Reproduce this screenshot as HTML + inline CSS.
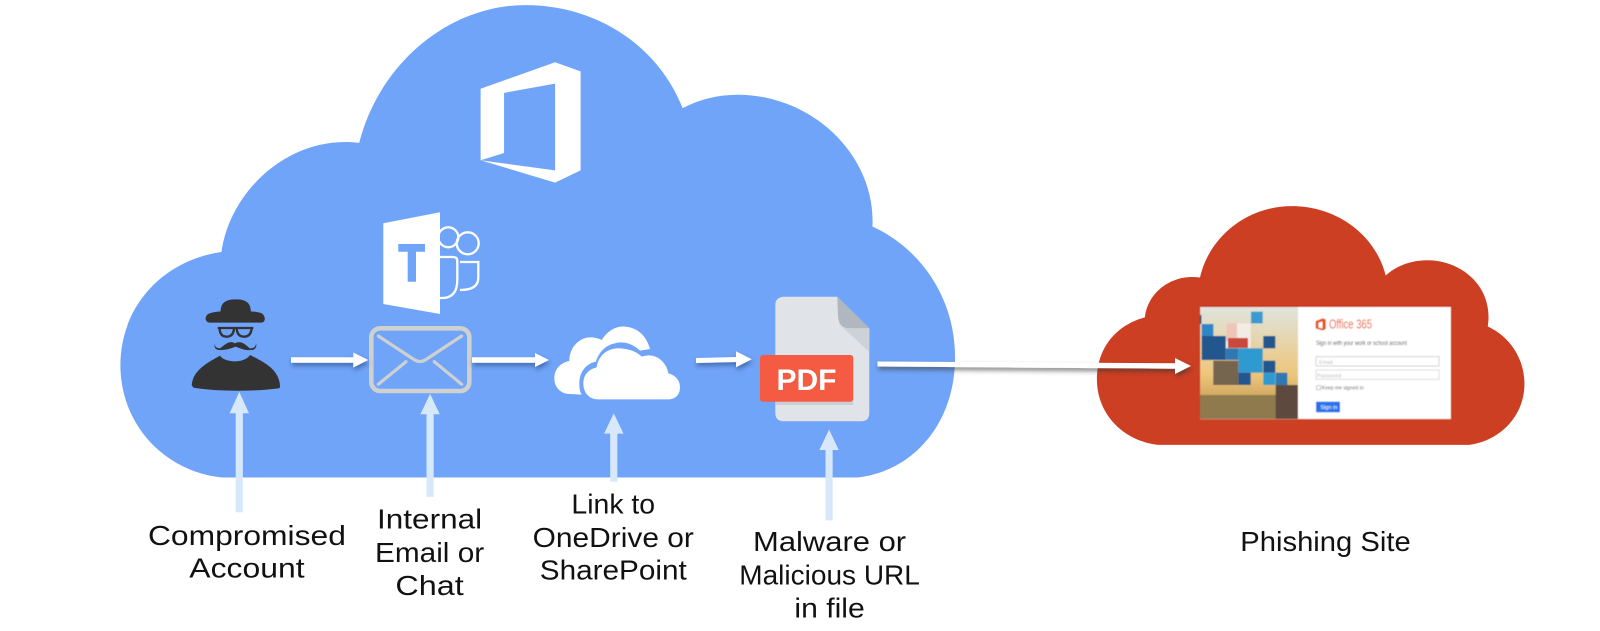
<!DOCTYPE html>
<html><head><meta charset="utf-8">
<style>html,body{margin:0;padding:0;background:#fff}svg{display:block}
text{font-family:"Liberation Sans",sans-serif;}
.l{font-size:27px;fill:#111;text-anchor:middle}
</style></head><body>
<svg width="1600" height="631" viewBox="0 0 1600 631" xmlns="http://www.w3.org/2000/svg">
<defs>
<filter id="s" x="-20%" y="-100%" width="140%" height="400%"><feDropShadow dx="1" dy="3" stdDeviation="2.500" flood-color="#1f3a70" flood-opacity=".55"/></filter>
<filter id="s2" x="-5%" y="-200%" width="110%" height="600%"><feDropShadow dx="1" dy="3" stdDeviation="2.500" flood-color="#333" flood-opacity=".6"/></filter>
<filter id="b" x="-2%" y="-2%" width="104%" height="104%"><feGaussianBlur stdDeviation=".45"/></filter>
<linearGradient id="sky" x1="0" y1="0" x2="0" y2="1"><stop offset="0" stop-color="#dfe4dd"/><stop offset=".6" stop-color="#edc67c"/><stop offset="1" stop-color="#b58a45"/></linearGradient>
</defs>
<g transform="scale(1.0204)">
<path fill="#70a4f8" d="M218 468 C160 462 118 415 118 358 C118 300 160 255 217 247 C226 185 285 132 352 140 C372 62 440 5 515 5 C585 5 645 45 669 106 C695 92 725 90 752 96 C815 110 858 165 855 222 C905 245 936 295 936 350 C936 415 895 462 840 468 Z"/>
<path fill="#cd3f23" d="M1135 436 C1100 432 1075 405 1075 372 C1075 340 1095 318 1122 311 C1125 285 1150 268 1176 272 C1185 232 1222 202 1266 202 C1310 202 1348 230 1358 270 C1375 254 1405 250 1428 262 C1450 273 1462 295 1458 320 C1480 330 1494 352 1494 376 C1494 408 1470 432 1440 436 Z"/>
<path fill="#fff" fill-rule="evenodd" d="M471 87 L544 61 L569 70 L569 167 L544 179 L471 157 Z M494 91 L494 150 L471 157 L544 167 L544 82 Z"/>
<g fill="#d8e8fb">
<path d="M231 502 H238 V405 H244 L234.500 384 L225 405 H231 Z"/>
<path d="M418 487 H425 V406 H431 L421.500 386 L412 406 H418 Z"/>
<path d="M598 472 H605 V425 H611 L601.500 405 L592 425 H598 Z"/>
<path d="M809 510 H816 V441 H822 L812.500 421 L803 441 H809 Z"/>
</g>
<text class="l" x="242" y="534" textLength="194" lengthAdjust="spacingAndGlyphs">Compromised</text>
<text class="l" x="242" y="566" textLength="113" lengthAdjust="spacingAndGlyphs">Account</text>
<text class="l" x="421" y="518" textLength="103" lengthAdjust="spacingAndGlyphs">Internal</text>
<text class="l" x="421" y="551" textLength="107" lengthAdjust="spacingAndGlyphs">Email or</text>
<text class="l" x="421" y="583" textLength="67" lengthAdjust="spacingAndGlyphs">Chat</text>
<text class="l" x="601" y="503" textLength="82" lengthAdjust="spacingAndGlyphs">Link to</text>
<text class="l" x="601" y="536" textLength="158" lengthAdjust="spacingAndGlyphs">OneDrive or</text>
<text class="l" x="601" y="568" textLength="144" lengthAdjust="spacingAndGlyphs">SharePoint</text>
<text class="l" x="813" y="540" textLength="150" lengthAdjust="spacingAndGlyphs">Malware or</text>
<text class="l" x="813" y="573" textLength="177" lengthAdjust="spacingAndGlyphs">Malicious URL</text>
<text class="l" x="813" y="605" textLength="69" lengthAdjust="spacingAndGlyphs">in file</text>
<text class="l" x="1299" y="540" textLength="167" lengthAdjust="spacingAndGlyphs">Phishing Site</text>
</g>
<!-- teams -->
<path fill="#fff" d="M383.300 223.300 L440 212.300 V314 L383.300 304 Z"/>
<path fill="#70a4f8" d="M398.300 244 H425 V251.700 H416 V281.700 H407.700 V251.700 H398.300 Z"/>
<g fill="none" stroke="#fff" stroke-width="2.300">
<circle cx="448.300" cy="237.300" r="10"/><circle cx="467.700" cy="243.300" r="11"/>
<path d="M440 257 H453 Q457.300 257 457.300 261 V280 Q457.300 298 442 298 H440"/>
<path d="M460 262 H478.300 V278 Q478.300 290 460 290"/>
</g>
<!-- person -->
<g transform="translate(170,200) scale(.3333)">
<g fill="#333">
<path d="M152 345 C148 305 170 298 197 298 C225 298 246 305 242 345 Z"/>
<path d="M122 339 C150 330 245 330 272 339 C285 342 292 368 272 368 H122 C102 368 102 344 122 339 Z"/>
<path d="M65 555 C70 510 110 490 150 467 C165 490 225 490 240 465 C290 490 325 510 330 555 C330 562 330 565 325 565 C250 575 140 575 70 563 Z"/>
<path d="M195 430 C175 418 160 440 150 445 C140 445 133 440 135 430 C130 445 140 452 155 450 C170 450 185 445 197 440 C210 445 225 452 240 450 C255 452 262 440 258 430 C258 440 250 446 240 445 C230 438 215 418 195 430 Z"/>
</g>
<g fill="none" stroke="#333" stroke-width="7">
<path d="M143 384 H250"/><path d="M149 384 Q149 410 170 410 Q190 410 192 386"/><path d="M200 386 Q202 410 222 410 Q243 410 245 384"/>
</g>
</g>
<!-- envelope -->
<g fill="none" stroke="#cfd0d0" stroke-linecap="round">
<rect x="371.300" y="328.300" width="98" height="62.700" rx="9" stroke-width="4.600"/>
<path stroke-width="3.200" d="M378.300 336 L414 359.500 Q420 363.500 426 359.500 L461.700 336"/>
<path stroke-width="3.200" d="M378.300 384.300 L406 361.700 M434.300 361.700 L461.700 384.300"/>
</g>
<!-- onedrive -->
<g transform="translate(530,280) scale(.3333)" fill="#fff">
<path d="M120 342 C90 342 73 320 73 295 C73 265 95 247 118 243 C118 200 150 172 180 172 C195 172 205 175 215 180 C235 150 260 137 285 140 C325 143 350 170 360 207 L330 212 C310 192 280 182 255 190 C225 195 205 220 198 245 C170 250 148 275 148 310 C148 325 150 335 155 344 Z"/>
<path d="M205 358 C175 358 160 335 160 310 C160 285 175 268 200 262 C205 225 235 203 270 205 C300 207 320 215 335 230 C375 215 410 245 415 280 C435 285 450 300 450 322 C450 345 435 358 415 358 Z"/>
</g>
<!-- pdf -->
<path fill="#e0e3e7" d="M785 296.700 H837.300 L869.300 328.300 V413 Q869.300 421.300 861 421.300 H784 Q775.300 421.300 775.300 413 V305 Q775.300 296.700 785 296.700 Z"/>
<path fill="#cdd2d9" d="M838 323 L850 328.300 H869.300 V352 Z"/>
<path fill="#b0b7bf" d="M837.300 296.700 L869.300 328.300 H850 Q838 328 838 315 Z"/>
<rect x="775.300" y="401" width="78" height="4" fill="#c9ced4"/>
<rect x="760" y="355" width="93.300" height="46.700" rx="3" fill="#f55a42"/>
<text x="806.500" y="390" text-anchor="middle" style="font-size:30px;font-weight:bold;fill:#fff" textLength="60" lengthAdjust="spacingAndGlyphs">PDF</text>
<!-- white arrows -->
<g fill="#fff" filter="url(#s)">
<path d="M291 357.300 H353.300 V352.500 L368.300 360 L353.300 367.500 V362.700 H291 Z"/>
<path d="M472 357.300 H535 V353 L549 360 L535 367 V362.700 H472 Z"/>
<path d="M696 358 L736 357 V351.300 L751.700 359.300 L736 367.300 V362 L696 363 Z"/>
</g>
<path d="M877.500 361.500 L1175 363.300 V358 L1191 366 L1175 374 V368.700 L877.500 366.500 Z" fill="#fff" filter="url(#s2)"/>
<!-- login panel -->
<g filter="url(#b)">
<rect x="1200" y="306.700" width="251" height="112.500" fill="#fff"/>
<path d="M1200 306.500 H1451" stroke="#c8200c" stroke-width="1"/>
<rect x="1200" y="307" width="98" height="112" fill="url(#sky)"/>
<rect x="1200" y="395" width="98" height="24" fill="#8f7a4e"/>
<rect x="1251" y="311.700" width="11.700" height="11.700" fill="#3a9ad2"/>
<rect x="1200" y="315" width="1.500" height="9" fill="#20568f"/>
<rect x="1201.700" y="324" width="11.700" height="12" fill="#2e86c8"/>
<rect x="1225.700" y="323.300" width="25" height="25" fill="#f2ece4"/>
<rect x="1226" y="323.300" width="11" height="18" fill="#eec6b8"/>
<rect x="1228" y="338" width="20" height="10" fill="#c94a3a"/>
<rect x="1201.700" y="336" width="24" height="24" fill="#20568f"/>
<rect x="1225.700" y="348.300" width="12.600" height="11.700" fill="#2d78b4"/>
<rect x="1238.300" y="348.300" width="24.400" height="24.400" fill="#2e9ad0"/>
<rect x="1263.300" y="336" width="12" height="12.300" fill="#20568f"/>
<rect x="1213.300" y="360.700" width="25" height="24.300" fill="#74654f"/>
<rect x="1238.300" y="372.700" width="12.400" height="12.300" fill="#20568f"/>
<rect x="1263.300" y="360.700" width="12" height="12" fill="#20568f"/>
<rect x="1263.300" y="372.700" width="12" height="12.300" fill="#2e9ad0"/>
<rect x="1275.700" y="372.700" width="11.600" height="12.300" fill="#2d78b4"/>
<rect x="1275.700" y="385" width="22.300" height="34" fill="#5d4a3c"/>
<path fill="#e8521e" fill-rule="evenodd" d="M1315.700 321 L1323 318.300 L1325.700 319.500 V329 L1323 330.500 L1315.700 328.500 Z M1318.500 322.500 V327.500 L1322.500 328.500 V321.500 Z"/>
<text x="1329" y="328.500" style="font-size:13px;fill:#e8521e" textLength="43" lengthAdjust="spacingAndGlyphs">Office 365</text>
<text x="1316" y="345" style="font-size:6px;fill:#555" textLength="91" lengthAdjust="spacingAndGlyphs">Sign in with your work or school account</text>
<rect x="1316" y="356.700" width="123" height="9.300" fill="#fff" stroke="#cfd3cf"/>
<rect x="1316" y="370" width="123" height="9.300" fill="#fff" stroke="#dadada"/>
<text x="1319" y="364" style="font-size:5.500px;fill:#bbb">Email</text>
<text x="1317" y="377.500" style="font-size:5.500px;fill:#bbb">Password</text>
<rect x="1316.700" y="385.700" width="4" height="4" fill="#fff" stroke="#999" stroke-width=".6"/>
<text x="1321.700" y="389.700" style="font-size:5.500px;fill:#666" textLength="42" lengthAdjust="spacingAndGlyphs">Keep me signed in</text>
<rect x="1316" y="401.700" width="24" height="10.600" fill="#2672ec"/>
<text x="1320.500" y="409" style="font-size:5.500px;fill:#fff">Sign in</text>
</g>
</svg>
</body></html>
